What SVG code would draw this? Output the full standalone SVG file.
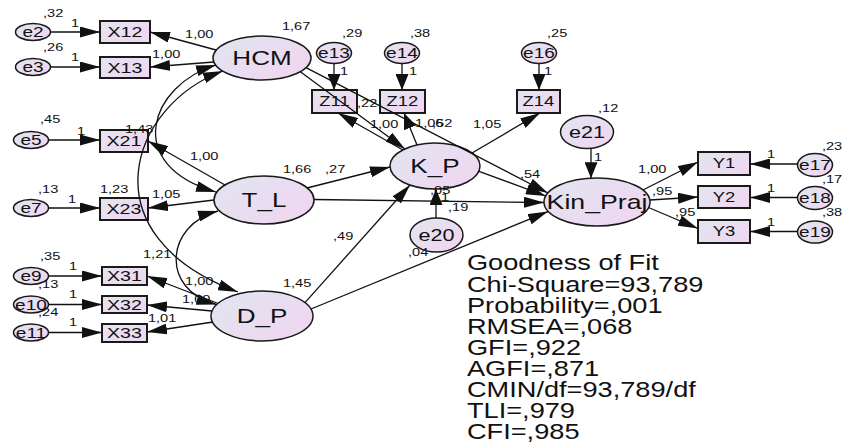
<svg xmlns="http://www.w3.org/2000/svg" width="842" height="446" viewBox="0 0 842 446">
<defs>
<linearGradient id="g" x1="0" y1="0.2" x2="1" y2="0.8">
<stop offset="0" stop-color="#e2e4f1"/><stop offset="1" stop-color="#f0d6f0"/>
</linearGradient>
<linearGradient id="gb" x1="0" y1="0.2" x2="1" y2="0.8">
<stop offset="0" stop-color="#e6e2f0"/><stop offset="1" stop-color="#eed8f0"/>
</linearGradient>
<marker id="ah" markerUnits="userSpaceOnUse" markerWidth="20" markerHeight="11" refX="20" refY="5.5" orient="auto-start-reverse"><path d="M0,0 L20,5.5 L0,11 z" fill="#111"/></marker>
<marker id="av" markerUnits="userSpaceOnUse" markerWidth="16" markerHeight="13" refX="16" refY="6.5" orient="auto"><path d="M0,0 L16,6.5 L0,13 z" fill="#111"/></marker>
<style>
.el{fill:url(#g);stroke:#1a1a1a;stroke-width:1.5}
.bx{fill:url(#gb);stroke:#1a1a1a;stroke-width:2}
.ln path{fill:none;stroke:#111;stroke-width:1.3}
text{font-family:"Liberation Sans",Arial,sans-serif;fill:#111}
.nl{font-size:20.5px;text-anchor:middle}
.el15{font-size:15px;text-anchor:middle}
.el17{font-size:17px;text-anchor:middle}
.bl{font-size:15.5px;text-anchor:middle}
.bz{font-size:14.5px;text-anchor:middle}
.sm{font-size:11.5px}
.gf{font-size:21.4px}
</style>
</defs>
<rect width="842" height="446" fill="#fff"/>

<!-- latent nodes -->
<g id="HCM"><ellipse class="el" cx="262" cy="58" rx="49" ry="22"/><text class="nl" transform="scale(1.27 1)" x="206.3" y="65.5">HCM</text></g>
<g id="T_L"><ellipse class="el" cx="264" cy="200" rx="50" ry="24"/><text class="nl" transform="scale(1.27 1)" x="207.9" y="207.5">T_L</text></g>
<g id="D_P"><ellipse class="el" cx="262" cy="316" rx="51" ry="25"/><text class="nl" transform="scale(1.27 1)" x="206.3" y="323.5">D_P</text></g>
<g id="K_P"><ellipse class="el" cx="435" cy="166" rx="45" ry="23"/><text class="nl" transform="scale(1.27 1)" x="342.5" y="173.5">K_P</text></g>
<g id="Kin_Praj"><ellipse class="el" cx="597" cy="202" rx="53" ry="24"/><text class="nl" style="font-size:21px" transform="scale(1.27 1)" x="470.1" y="209.5">Kin_Praj</text></g>

<!-- error nodes -->
<g id="e2"><ellipse class="el" cx="33" cy="32" rx="17.5" ry="8.5"/><text class="el15" transform="scale(1.27 1)" x="26" y="37.5">e2</text></g>
<g id="e3"><ellipse class="el" cx="33" cy="67" rx="17.5" ry="8.5"/><text class="el15" transform="scale(1.27 1)" x="26" y="72.5">e3</text></g>
<g id="e5"><ellipse class="el" cx="31" cy="140" rx="17.5" ry="8.5"/><text class="el15" transform="scale(1.27 1)" x="24.4" y="145.5">e5</text></g>
<g id="e7"><ellipse class="el" cx="31" cy="208" rx="17.5" ry="8.5"/><text class="el15" transform="scale(1.27 1)" x="24.4" y="213.5">e7</text></g>
<g id="e9"><ellipse class="el" cx="31" cy="276" rx="17.5" ry="8.5"/><text class="el15" transform="scale(1.27 1)" x="24.4" y="281.5">e9</text></g>
<g id="e10"><ellipse class="el" cx="31" cy="304.5" rx="17.5" ry="8.5"/><text class="el15" transform="scale(1.27 1)" x="24.4" y="310">e10</text></g>
<g id="e11"><ellipse class="el" cx="31" cy="332.5" rx="17.5" ry="8.5"/><text class="el15" transform="scale(1.27 1)" x="24.4" y="338">e11</text></g>
<g id="e13"><ellipse class="el" cx="334" cy="53" rx="17.5" ry="10.5"/><text class="el15" transform="scale(1.27 1)" x="263" y="58.5">e13</text></g>
<g id="e14"><ellipse class="el" cx="402" cy="53" rx="17.5" ry="10.5"/><text class="el15" transform="scale(1.27 1)" x="316.5" y="58.5">e14</text></g>
<g id="e16"><ellipse class="el" cx="539" cy="53" rx="17.5" ry="10.5"/><text class="el15" transform="scale(1.27 1)" x="424.4" y="58.5">e16</text></g>
<g id="e17"><ellipse class="el" cx="815" cy="165" rx="17.5" ry="11.5"/><text class="el15" transform="scale(1.27 1)" x="641.7" y="170.5">e17</text></g>
<g id="e18"><ellipse class="el" cx="815" cy="198" rx="17.5" ry="11.5"/><text class="el15" transform="scale(1.27 1)" x="641.7" y="203.5">e18</text></g>
<g id="e19"><ellipse class="el" cx="815" cy="232" rx="17.5" ry="11"/><text class="el15" transform="scale(1.27 1)" x="641.7" y="237.5">e19</text></g>
<g id="e20"><ellipse class="el" cx="436.5" cy="235" rx="26.5" ry="17"/><text class="el17" transform="scale(1.27 1)" x="343.7" y="241">e20</text></g>
<g id="e21"><ellipse class="el" cx="587" cy="132" rx="26.5" ry="16.5"/><text class="el17" transform="scale(1.27 1)" x="462.2" y="138">e21</text></g>

<!-- observed nodes -->
<g id="X12"><rect class="bx" x="100" y="21" width="50" height="22"/><text class="bl" transform="scale(1.27 1)" x="98.4" y="37.5">X12</text></g>
<g id="X13"><rect class="bx" x="100" y="57" width="50" height="21"/><text class="bl" transform="scale(1.27 1)" x="98.4" y="73">X13</text></g>
<g id="X21"><rect class="bx" x="100" y="130" width="48" height="22"/><text class="bl" transform="scale(1.27 1)" x="97.6" y="146.5">X21</text></g>
<g id="X23"><rect class="bx" x="100" y="198" width="48" height="22"/><text class="bl" transform="scale(1.27 1)" x="97.6" y="214.5">X23</text></g>
<g id="X31"><rect class="bx" x="102" y="267" width="45" height="18"/><text class="bl" transform="scale(1.27 1)" x="98" y="281.5">X31</text></g>
<g id="X32"><rect class="bx" x="102" y="296" width="45" height="17"/><text class="bl" transform="scale(1.27 1)" x="98" y="310">X32</text></g>
<g id="X33"><rect class="bx" x="102" y="324" width="45" height="18"/><text class="bl" transform="scale(1.27 1)" x="98" y="338.5">X33</text></g>
<g id="Z11"><rect class="bx" x="312" y="90" width="45" height="23"/><text class="bz" transform="scale(1.27 1)" x="263.4" y="106.5">Z11</text></g>
<g id="Z12"><rect class="bx" x="380" y="90" width="45" height="23"/><text class="bz" transform="scale(1.27 1)" x="316.9" y="106.5">Z12</text></g>
<g id="Z14"><rect class="bx" x="517" y="90" width="43" height="23"/><text class="bz" transform="scale(1.27 1)" x="424" y="106.5">Z14</text></g>
<g id="Y1"><rect class="bx" x="698" y="152" width="52" height="23"/><text class="bz" transform="scale(1.27 1)" x="570.1" y="168.5">Y1</text></g>
<g id="Y2"><rect class="bx" x="698" y="186" width="52" height="22"/><text class="bz" transform="scale(1.27 1)" x="570.1" y="202">Y2</text></g>
<g id="Y3"><rect class="bx" x="698" y="220" width="52" height="23"/><text class="bz" transform="scale(1.27 1)" x="570.1" y="236.5">Y3</text></g>

<!-- estimates -->
<g id="labels" class="sm" transform="scale(1.27 1)">
<text x="33.9" y="17">,32</text>
<text x="55.9" y="27">1</text>
<text x="33.9" y="51">,26</text>
<text x="55.9" y="61">1</text>
<text x="145.7" y="38">1,00</text>
<text x="119.7" y="58">1,00</text>
<text x="222" y="30">1,67</text>
<text x="31.5" y="123">,45</text>
<text x="60.6" y="135">1</text>
<text x="98.4" y="133">1,43</text>
<text x="149.6" y="160">1,00</text>
<text x="222.8" y="173">1,66</text>
<text x="29.9" y="193">,13</text>
<text x="53.5" y="203">1</text>
<text x="78.7" y="193">1,23</text>
<text x="119.7" y="198">1,05</text>
<text x="255.9" y="173">,27</text>
<text x="31.5" y="260">,35</text>
<text x="112.6" y="258">1,21</text>
<text x="54.3" y="270">1</text>
<text x="145.7" y="285">1,00</text>
<text x="222.8" y="287">1,45</text>
<text x="29.9" y="288">,13</text>
<text x="54.3" y="298">1</text>
<text x="143.3" y="303">1,00</text>
<text x="29.9" y="316">,24</text>
<text x="54.3" y="326">1</text>
<text x="116.5" y="322">1,01</text>
<text x="262.2" y="240">,49</text>
<text x="321.3" y="256">,04</text>
<text x="338.6" y="194">,05</text>
<text x="347.2" y="201">1</text>
<text x="352.8" y="211">,19</text>
<text x="409.4" y="178">,54</text>
<text x="372.4" y="128">1,05</text>
<text x="291.3" y="128">1,00</text>
<text x="326.8" y="127">1,06</text>
<text x="340.2" y="127">,52</text>
<text x="281.1" y="107">,22</text>
<text x="269.3" y="37">,29</text>
<text x="267.7" y="75">1</text>
<text x="322.8" y="37">,38</text>
<text x="322" y="75">1</text>
<text x="430.7" y="37">,25</text>
<text x="428.3" y="75">1</text>
<text x="470.9" y="112">,12</text>
<text x="467.7" y="161">1</text>
<text x="502.4" y="173">1,00</text>
<text x="513.4" y="195">,95</text>
<text x="531.5" y="216">,95</text>
<text x="603.9" y="158">1</text>
<text x="647.2" y="150">,23</text>
<text x="603.9" y="192">1</text>
<text x="647.2" y="183">,17</text>
<text x="603.9" y="226">1</text>
<text x="647.2" y="216">,38</text>
</g>

<!-- connectors -->
<g id="connectors" class="ln">
<path d="M51,32 L100,32" marker-end="url(#ah)"/>
<path d="M51,67 L100,67" marker-end="url(#ah)"/>
<path d="M48.5,140 L100,140" marker-end="url(#ah)"/>
<path d="M48.5,208 L100,208" marker-end="url(#ah)"/>
<path d="M48.5,276 L102,276" marker-end="url(#ah)"/>
<path d="M48.5,304.5 L102,304.5" marker-end="url(#ah)"/>
<path d="M48.5,332.5 L102,332.5" marker-end="url(#ah)"/>
<path d="M216,50 L150,32" marker-end="url(#ah)"/>
<path d="M214,62 L150,67" marker-end="url(#ah)"/>
<path d="M225,185 L148,141" marker-end="url(#ah)"/>
<path d="M214,200 L148,208" marker-end="url(#ah)"/>
<path d="M217,303 L147,276" marker-end="url(#ah)"/>
<path d="M212,311 L147,305" marker-end="url(#ah)"/>
<path d="M213,322 L147,332" marker-end="url(#ah)"/>
<path d="M403,150 L338,113" marker-end="url(#ah)"/>
<path d="M417,145 L404,113" marker-end="url(#av)"/>
<path d="M472,153 L540,113" marker-end="url(#ah)"/>
<path d="M479,171.3 L545.8,196" marker-end="url(#ah)"/>
<path d="M300,71.5 L405,149" marker-end="url(#ah)"/>
<path d="M306,67.6 L548,193" marker-end="url(#ah)"/>
<path d="M307,188 L390,167" marker-end="url(#ah)"/>
<path d="M314,199.5 L544,202.5" marker-end="url(#ah)"/>
<path d="M305,302.6 L410,185" marker-end="url(#ah)"/>
<path d="M311,309 L548,211.6" marker-end="url(#ah)"/>
<path d="M436,218 L436,189" marker-end="url(#av)"/>
<path d="M591,148.3 L591,178.2" marker-end="url(#av)"/>
<path d="M334,63.5 L334,90" marker-end="url(#av)"/>
<path d="M402,63.5 L402,90" marker-end="url(#av)"/>
<path d="M539,63.5 L539,90" marker-end="url(#av)"/>
<path d="M643,190 L698,162" marker-end="url(#ah)"/>
<path d="M650,200 L698,197" marker-end="url(#ah)"/>
<path d="M648.5,207.5 L698,228.5" marker-end="url(#ah)"/>
<path d="M797.5,164 L750,164" marker-end="url(#ah)"/>
<path d="M797.5,197.5 L750,197.5" marker-end="url(#ah)"/>
<path d="M797.5,231.5 L750,231.5" marker-end="url(#ah)"/>
<path d="M216,65 C150,85 122,165 216,192" marker-start="url(#ah)" marker-end="url(#ah)"/>
<path d="M223,71 C130,105 85,235 238,292" marker-start="url(#ah)" marker-end="url(#ah)"/>
<path d="M218,211 C165,225 160,290 216.5,304.5" marker-start="url(#ah)" marker-end="url(#ah)"/>
</g>

<!-- fit statistics -->
<g id="fit" class="gf" transform="scale(1.27 1)">
<text x="367.7" y="270.5">Goodness of Fit</text>
<text x="367.7" y="291.6">Chi-Square=93,789</text>
<text x="367.7" y="312.7">Probability=,001</text>
<text x="367.7" y="333.8">RMSEA=,068</text>
<text x="367.7" y="354.9">GFI=,922</text>
<text x="367.7" y="376">AGFI=,871</text>
<text x="367.7" y="397.1">CMIN/df=93,789/df</text>
<text x="367.7" y="418.2">TLI=,979</text>
<text x="367.7" y="439.3">CFI=,985</text>
</g>
</svg>
